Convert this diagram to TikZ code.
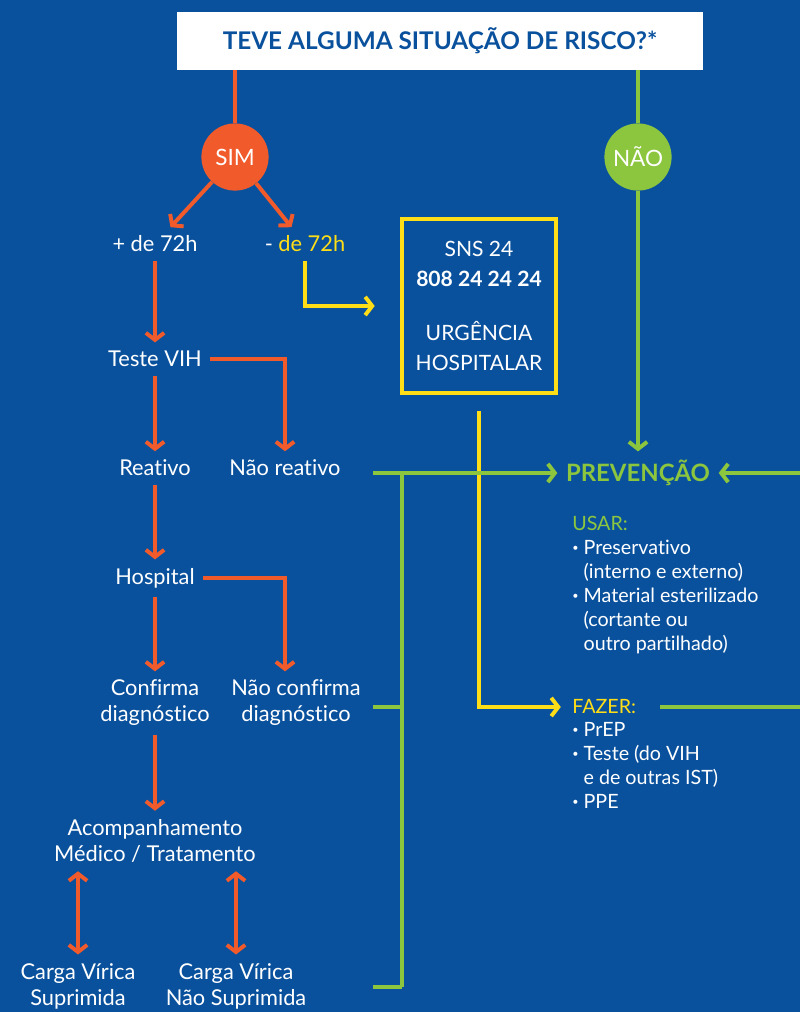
\documentclass[tikz,border=0pt]{standalone}
\usepackage{fontspec}
\setmainfont{Lato}[Ligatures=NoCommon]
\usetikzlibrary{arrows.meta}

\definecolor{fundo}{HTML}{0A519D}
\definecolor{laranja}{HTML}{F15A2B}
\definecolor{verde}{HTML}{8CC63F}
\definecolor{amarelo}{HTML}{FFDE17}

\newcommand{\pto}{\raisebox{0.25ex}{\scalebox{0.55}{\textbullet}}\ }

\tikzset{
  fio/.style={line width=2.8pt},
  seta/.style={fio,-{Straight Barb[length=5pt,width=13pt]}},
  setadupla/.style={fio,{Straight Barb[length=5pt,width=13pt]}-{Straight Barb[length=5pt,width=13pt]}},
  rotulo/.style={text=white,align=center,inner sep=6pt,font=\fontsize{15.5}{18.5}\selectfont},
  lista/.style={text=white,align=left,inner sep=0pt,anchor=north west,font=\fontsize{14}{17}\selectfont}
}

\begin{document}
\begin{tikzpicture}[x=0.025cm,y=-0.025cm]
\fill[fundo] (0,0) rectangle (800,1012);
\useasboundingbox (0,0) rectangle (800,1012);

\node[fill=white,minimum width=13.125cm,minimum height=1.45cm,text=fundo,font=\bfseries\fontsize{17.3}{20}\selectfont] (titulo) at (440,41) {TEVE ALGUMA SITUAÇÃO DE RISCO?*};

\begin{scope}[every node/.style={circle,minimum size=1.68cm,inner sep=0pt,text=white,font=\fontsize{16}{19}\selectfont}]
  \node[fill=laranja] (sim) at (235,157) {SIM};
  \node[fill=verde] (nao) at (638,157) {NÃO};
\end{scope}

\begin{scope}[every node/.style={rotulo}]
  \node (mais) at (155,244) {+ de 72h};
  \node (menos) at (305,244) {-\ \textcolor{amarelo}{de 72h}};
  \node (teste) at (155,359) {Teste VIH};
  \node (reat) at (155,468) {Reativo};
  \node (naoreat) at (285,468) {Não reativo};
  \node (hosp) at (155,578) {Hospital};
  \node (conf) at (155,703) {Confirma\\diagnóstico};
  \node (naoconf) at (296,703) {Não confirma\\diagnóstico};
  \node (acomp) at (155,841) {Acompanhamento\\Médico / Tratamento};
  \node (cv1) at (78,986) {Carga Vírica\\Suprimida};
  \node (cv2) at (236,986) {Carga Vírica\\Não Suprimida};
\end{scope}

\node[draw=amarelo,line width=2.8pt,minimum width=3.85cm,minimum height=4.33cm,text=white,align=center,font=\fontsize{15}{21}\selectfont] (sns) at (479,306) {SNS 24\\\textbf{808 24 24 24}\\[18pt]URGÊNCIA\\HOSPITALAR};

\node[text=verde,inner sep=6pt,font=\bfseries\fontsize{17}{20}\selectfont] (prev) at (638,473) {PREVENÇÃO};
\node[lista] (usar) at (572,516) {\textcolor{verde}{USAR:}\\
  \pto Preservativo\\
  \phantom{\pto}(interno e externo)\\
  \pto Material esterilizado\\
  \phantom{\pto}(cortante ou\\
  \phantom{\pto}outro partilhado)};
\node[text=amarelo,inner sep=0pt,anchor=west,font=\fontsize{14}{17}\selectfont] (fazer) at (572,707) {FAZER:};
\node[lista] (lfazer) at (572,722) {\pto PrEP\\
  \pto Teste (do VIH\\
  \phantom{\pto}e de outras IST)\\
  \pto PPE};

\coordinate (gA) at (373,473);
\coordinate (gB) at (402,473);
\coordinate (gC) at (402,987);
\coordinate (gD) at (373,707);
\coordinate (gE) at (373,987);
\coordinate (dirA) at (800,473);
\coordinate (dirB) at (800,707);

\begin{scope}[laranja]
  \draw[fio] (titulo.south -| sim) -- (sim);
  \draw[seta] (sim) -- (mais);
  \draw[seta] (sim) -- (menos);
  \draw[seta] (mais) -- (teste);
  \draw[seta] (teste) -- (reat);
  \draw[seta] (teste.east) -| (naoreat);
  \draw[seta] (reat) -- (hosp);
  \draw[seta] (hosp) -- (conf);
  \draw[seta] (hosp.east) -| (naoreat |- naoconf.north);
  \draw[seta] (conf) -- (acomp);
  \draw[setadupla] (acomp.south -| cv1) -- (cv1);
  \draw[setadupla] (acomp.south -| cv2) -- (cv2);
\end{scope}

\begin{scope}[amarelo]
  \draw[seta,shorten >=18pt] (menos) |- (sns);
  \draw[seta,shorten <=12pt,shorten >=8pt] (sns) |- (fazer);
\end{scope}

\begin{scope}[verde]
  \draw[fio] (titulo.south -| nao) -- (nao);
  \draw[seta] (nao) -- (prev);
  \draw[seta] (gA) -- (prev);
  \draw[seta] (dirA) -- (prev);
  \draw[fio] (gB) -- (gC);
  \draw[fio] (gD) -- (gD -| gB);
  \draw[fio] (gE) -- (gC);
  \draw[fio,shorten <=17pt] (fazer.east |- dirB) -- (dirB);
\end{scope}
\end{tikzpicture}
\end{document}
